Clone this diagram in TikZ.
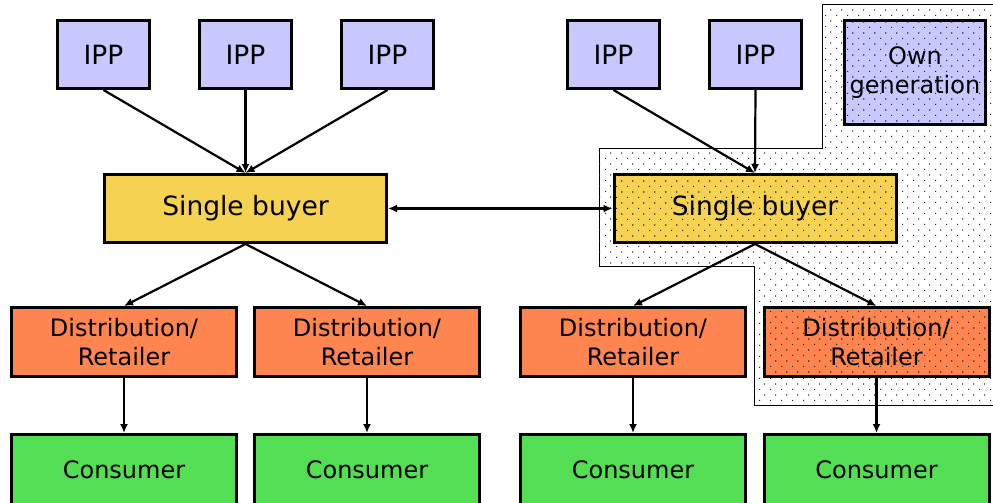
\documentclass[tikz,border=0pt]{standalone}
\usepackage{fontspec}
\setmainfont{DejaVu Sans}
\usetikzlibrary{arrows.meta,patterns}

% staggered dot grid used for the own-generation area
\pgfdeclarepatternformonly{sdots}{\pgfpointorigin}{\pgfpoint{11pt}{11.4pt}}{\pgfpoint{11pt}{11.4pt}}{%
  \pgfpathrectangle{\pgfpoint{0pt}{0pt}}{\pgfpoint{1.3pt}{1.3pt}}%
  \pgfpathrectangle{\pgfpoint{5.5pt}{5.7pt}}{\pgfpoint{1.3pt}{1.3pt}}%
  \pgfusepath{fill}%
}

\definecolor{ippcol}{RGB}{200,200,255}
\definecolor{buyercol}{RGB}{245,210,82}
\definecolor{distcol}{RGB}{255,133,80}
\definecolor{conscol}{RGB}{84,222,84}

\tikzset{
  box/.style={draw=black, line width=3pt, inner sep=0pt, outer sep=1.5pt,
    align=center, font=\fontsize{26.5}{29}\selectfont},
  smalltext/.style={font=\fontsize{24}{29}\selectfont},
  ipp/.style={box, fill=ippcol, minimum width=92pt, minimum height=68pt},
  buyer/.style={box, fill=buyercol, minimum width=282pt, minimum height=68pt},
  dist/.style={box, smalltext, fill=distcol, minimum width=225pt, minimum height=69pt},
  cons/.style={box, smalltext, fill=conscol, minimum width=225pt, minimum height=71pt},
  dotted area/.style={postaction={pattern=sdots, pattern color=black!85}},
  flow/.style={line width=2.2pt, -{Latex[length=9pt,width=8pt]}},
  twoway/.style={line width=2.2pt, {Latex[length=9pt,width=8pt]}-{Latex[length=9pt,width=8pt]}}
}

\begin{document}
\begin{tikzpicture}[x=1pt,y=-1pt]
\useasboundingbox (0,0) rectangle (993,503);
\clip (0,0) rectangle (993,503);

% own-generation area
\draw[line width=1pt, fill=white, dotted area]
  (822,5) -- (1005,5) -- (1005,405) -- (754,405) -- (754,266)
  -- (599,266) -- (599,148) -- (822,148) -- cycle;

% generators
\node[ipp] (ipp1) at (103.5,54.5) {IPP};
\node[ipp] (ipp2) at (245.5,54.5) {IPP};
\node[ipp] (ipp3) at (387.5,54.5) {IPP};
\node[ipp] (ipp4) at (613.5,54.5) {IPP};
\node[ipp] (ipp5) at (755.5,54.5) {IPP};
\node[box, smalltext, fill=ippcol, minimum width=141pt, minimum height=104pt, dotted area]
  (own) at (915,72.5) {Own\\generation};

% single buyers
\node[buyer] (sb1) at (245.5,208.5) {Single buyer};
\node[buyer, dotted area] (sb2) at (755,208.5) {Single buyer};

% distribution / retail
\node[dist] (d1) at (124,342) {Distribution/\\Retailer};
\node[dist] (d2) at (367,342) {Distribution/\\Retailer};
\node[dist] (d3) at (633,342) {Distribution/\\Retailer};
\node[dist, dotted area] (d4) at (876.5,342) {Distribution/\\Retailer};

% consumers
\node[cons] (c1) at (124,470) {Consumer};
\node[cons] (c2) at (367,470) {Consumer};
\node[cons] (c3) at (633,470) {Consumer};
\node[cons] (c4) at (876.5,470) {Consumer};

% flows
\draw[flow] (ipp1.south) -- (sb1.north);
\draw[flow] (ipp2.south) -- (sb1.north);
\draw[flow] (ipp3.south) -- (sb1.north);
\draw[flow] (ipp4.south) -- (sb2.north);
\draw[flow] (ipp5.south) -- (sb2.north);

\draw[twoway] (sb1.east) -- (sb2.west);

\draw[flow] (sb1.south) -- (d1.north);
\draw[flow] (sb1.south) -- (d2.north);
\draw[flow] (sb2.south) -- (d3.north);
\draw[flow] (sb2.south) -- (d4.north);

\draw[flow] (d1) -- (c1);
\draw[flow] (d2) -- (c2);
\draw[flow] (d3) -- (c3);
\draw[flow] (d4) -- (c4);
\end{tikzpicture}
\end{document}
